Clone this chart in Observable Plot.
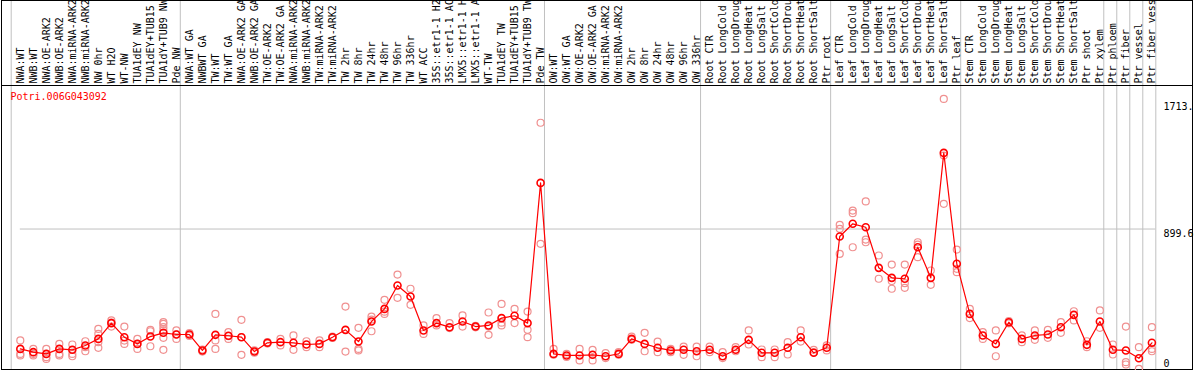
<!DOCTYPE html>
<html>
<head>
<meta charset="utf-8">
<script src="https://cdn.jsdelivr.net/npm/d3@7"></script>
<script src="https://cdn.jsdelivr.net/npm/@observablehq/plot@0.6"></script>
<style>
  html, body { margin: 0; padding: 0; background: #fff; }
  #chart svg { display: block; }
</style>
</head>
<body>
<div id="chart"></div>
<script>
const geneId = "Potri.006G043092";

const samples = [
  "NWA:WT", "NWB:WT", "NWA:OE-ARK2", "NWB:OE-ARK2", "NWA:miRNA-ARK2", "NWB:miRNA-ARK2",
  "NW 0hr", "WT H2O", "WT-NW", "TUA1dEY NW", "TUA1dEY+TUB15 NW", "TUA1dY+TUB9 NW", "Pde NW",
  "NWA:WT GA", "NWBWT GA", "TW:WT", "TW:WT GA", "NWA:OE-ARK2 GA", "NWB:OE-ARK2 GA",
  "TW:OE-ARK2", "TW:OE-ARK2 GA", "NWA:miRNA-ARK2 GA", "NWB:miRNA-ARK2 GA", "TW:miRNA-ARK2",
  "TW:miRNA-ARK2 GA", "TW 2hr", "TW 8hr", "TW 24hr", "TW 48hr", "TW 96hr", "TW 336hr",
  "WT ACC", "35S::etr1-1 H2O", "35S::etr1-1 ACC", "LMX5::etr1-1 H2O", "LMX5::etr1-1 ACC",
  "WT-TW", "TUA1dEY TW", "TUA1dEY+TUB15 TW", "TUA1dY+TUB9 TW", "Pde TW",
  "OW:WT", "OW:WT GA", "OW:OE-ARK2", "OW:OE-ARK2 GA", "OW:miRNA-ARK2", "OW:miRNA-ARK2 GA",
  "OW 2hr", "OW 8hr", "OW 24hr", "OW 48hr", "OW 96hr", "OW 336hr",
  "Root CTR", "Root LongCold", "Root LongDrought", "Root LongHeat", "Root LongSalt",
  "Root ShortCold", "Root ShortDrought", "Root ShortHeat", "Root ShortSalt", "Ptr root",
  "Leaf CTR", "Leaf LongCold", "Leaf LongDrought", "Leaf LongHeat", "Leaf LongSalt",
  "Leaf ShortCold", "Leaf ShortDrought", "Leaf ShortHeat", "Leaf ShortSalt", "Ptr leaf",
  "Stem CTR", "Stem LongCold", "Stem LongDrought", "Stem LongHeat", "Stem LongSalt",
  "Stem ShortCold", "Stem ShortDrought", "Stem ShortHeat", "Stem ShortSalt", "Ptr shoot",
  "Ptr xylem", "Ptr phloem", "Ptr fiber", "Ptr vessel", "Ptr fiber vessel"
];

// index of the first sample of each group (last entry = end)
const groupStarts = [0, 13, 41, 53, 63, 73, 84, 85, 86, 87, 88];

const means = [
  132, 111, 100, 132, 126, 154, 196, 297, 207, 164, 211, 235, 224,
  224, 122, 222, 216, 207, 115, 171, 175, 171, 160, 164, 207, 254, 179, 307, 388, 538, 467,
  250, 297, 271, 307, 275, 282, 329, 344, 297, 1195,
  100, 90, 90, 94, 85, 100, 196, 164, 139, 122, 126, 117,
  126, 85, 126, 190, 107, 107, 139, 207, 107, 139,
  852, 933, 911, 651, 587, 581, 783, 587, 1387, 677,
  356, 218, 164, 303, 196, 218, 224, 271, 350, 158, 307,
  126, 122, 72, 171
];

const replicates = [
  [186, 100, 90], [132, 100, 90], [132, 79, 68], [164, 100, 90], [160, 100, 85],
  [181, 143, 117], [260, 228, 175, 139], [314, 275, 300], [275, 164, 185], [196, 132, 165],
  [254, 245, 149], [303, 292, 271, 250, 203, 126], [250, 196, 225],
  [233, 215], [115, 128], [356, 186, 132], [239, 196, 213], [318, 94, 208], [122, 108],
  [175, 166], [196, 154], [218, 126], [181, 143], [186, 143], [211, 202], [403, 115],
  [267, 132, 122], [339, 245, 320], [446, 356, 370], [608, 459], [517, 414],
  [282, 228], [329, 282], [297, 265], [346, 275], [270, 280], [365, 222, 275],
  [420, 282, 300], [388, 297], [371, 254, 207], [1580, 805],
  [132, 95], [100, 80], [132, 58], [126, 58], [105, 73], [111, 95],
  [211, 190], [235, 117], [179, 111], [132, 111], [147, 94], [147, 85],
  [147, 111], [111, 73], [143, 117], [250, 160], [128, 79], [128, 79],
  [175, 96], [250, 179], [126, 110], [154, 122],
  [926, 901, 741], [1018, 1001, 783], [1076, 832, 815], [730, 581], [672, 566, 517],
  [672, 553, 523], [815, 800, 719], [634, 542], [1733, 1370, 1061], [768, 645, 623],
  [388, 329], [239, 196], [250, 85], [310, 296], [218, 175], [250, 190], [254, 203],
  [303, 235], [373, 314], [181, 143], [378, 267],
  [160, 96], [275, 47, 32], [143, 4], [271, 132, 117]
];

const yTicks = [0, 899.6, 1713];
const yTickLabels = ["0", "899.6", "1713."];
const yGrid = [899.6];

const repRows = replicates.flatMap((r, i) => r.map(v => ({i, v})));
const meanRows = means.map((v, i) => ({i, v}));
const boundaries = groupStarts.map(s => s - 0.7);
const gridEnd = boundaries[boundaries.length - 1];
const mono = "DejaVu Sans Mono";

const chart = Plot.plot({
  width: 1194,
  height: 370,
  marginTop: 0,
  marginBottom: 1,
  marginLeft: 1,
  marginRight: 2,
  style: {background: "#fff", fontFamily: mono, fontSize: "10px"},
  x: {type: "linear", domain: [boundaries[0], gridEnd], range: [10.7, 1155.3], axis: null},
  y: {domain: [0, 1713], range: [369, 101.5], axis: null},
  marks: [
    Plot.ruleX(boundaries, {x: d => d, stroke: "#c0c0c0"}),
    Plot.ruleY(yGrid, {y: d => d, x2: () => gridEnd, stroke: "#c0c0c0"}),
    Plot.frame({stroke: "black"}),
    Plot.frame({anchor: "top", insetTop: 85, stroke: "black"}),
    Plot.text(samples, {
      x: (d, i) => i, text: d => d, frameAnchor: "top", dy: 83,
      rotate: -90, textAnchor: "start", lineAnchor: "middle",
      fontFamily: mono, fontSize: 10, fill: "black"
    }),
    Plot.text([geneId], {
      text: d => d, frameAnchor: "top-left", dx: 9, dy: 92,
      textAnchor: "start", lineAnchor: "top", fontFamily: mono, fontSize: 10, fill: "#ff0000"
    }),
    Plot.text(yTicks, {
      filter: d => d > 0, y: d => d, text: (d) => yTickLabels[yTicks.indexOf(d)],
      frameAnchor: "right", dx: -29, textAnchor: "start", lineAnchor: "top", dy: 1,
      fontFamily: mono, fontSize: 10, fill: "black"
    }),
    Plot.text(yTicks, {
      filter: d => d === 0, y: d => d, text: (d) => yTickLabels[yTicks.indexOf(d)],
      frameAnchor: "right", dx: -29, textAnchor: "start", lineAnchor: "top", dy: -10,
      fontFamily: mono, fontSize: 10, fill: "black"
    }),
    Plot.dot(repRows, {x: "i", y: "v", r: 3.5, stroke: "#f09090", strokeWidth: 1.2, fill: "none"}),
    Plot.line(meanRows, {x: "i", y: "v", stroke: "#ff0000", strokeWidth: 1.2}),
    Plot.dot(meanRows, {x: "i", y: "v", r: 3.5, stroke: "#ff0000", strokeWidth: 1.6, fill: "none"})
  ]
});
document.getElementById("chart").appendChild(chart);
</script>
</body>
</html>
